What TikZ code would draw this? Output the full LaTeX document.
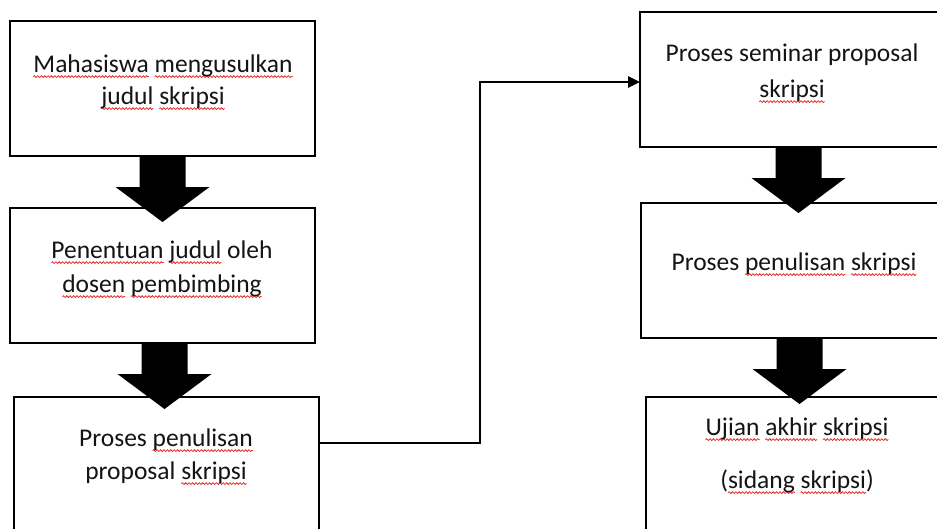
\documentclass[tikz,border=0pt]{standalone}
\usepackage{fontspec}
\setmainfont{Carlito}
\usetikzlibrary{arrows.meta,calc,decorations.pathmorphing}
\definecolor{squig}{RGB}{230,35,35}
\newsavebox\serrbox
\newcommand\spellerr[1]{\sbox\serrbox{#1}\rlap{\tikz[baseline=0pt,x=1pt,y=1pt]{\useasboundingbox (0,0); \draw[squig, line width=0.75pt, decorate, decoration={snake, amplitude=0.9pt, segment length=3.4pt}] (0,-4.6) -- (\the\wd\serrbox,-4.6);}}\usebox\serrbox}
\tikzset{
  box/.style={draw=black, line width=1.8pt, fill=white, rectangle, anchor=north west, outer sep=0pt, inner sep=0pt},
  lbl/.style={anchor=base, inner sep=0pt, font=\fontsize{25.5}{32}\selectfont, text=black!92},
  conn/.style={line width=2.8pt, -{Triangle[length=12pt,width=11pt]}},
  blockarrow/.pic={\fill[black] (-23,0) -- (23,0) -- (23,31) -- (47,31) -- (0,66) -- (-47,31) -- (-23,31) -- cycle;}
}
\begin{document}
\begin{tikzpicture}[x=1pt,y=-1pt]
\useasboundingbox (0,0) rectangle (937,528);
% boxes
\node[box, minimum width=305pt, minimum height=135pt] (b1) at (10,21) {};
\node[box, minimum width=305pt, minimum height=135pt] (b2) at (10,208) {};
\node[box, minimum width=305pt, minimum height=150pt] (b3) at (14,397) {};
\node[box, minimum width=312pt, minimum height=135pt] (b4) at (640,12) {};
\node[box, minimum width=312pt, minimum height=135pt] (b5) at (641,203) {};
\node[box, minimum width=310pt, minimum height=150pt] (b6) at (646,397) {};
% texts
\node[lbl] (t1a) at (163,72) {\spellerr{Mahasiswa} \spellerr{mengusulkan}};
\node[lbl] (t1b) at (163,104) {\spellerr{judul} \spellerr{skripsi}};
\node[lbl] (t2a) at (162,258) {\spellerr{Penentuan} \spellerr{judul} oleh};
\node[lbl] (t2b) at (162,292) {\spellerr{dosen} \spellerr{pembimbing}};
\node[lbl] (t3a) at (166,446) {Proses \spellerr{penulisan}};
\node[lbl] (t3b) at (166,479) {proposal \spellerr{skripsi}};
\node[lbl] (t4a) at (792,61) {Proses seminar proposal};
\node[lbl] (t4b) at (792,97) {\spellerr{skripsi}};
\node[lbl] (t5a) at (794,270) {Proses \spellerr{penulisan} \spellerr{skripsi}};
\node[lbl] (t6a) at (797,435) {\spellerr{Ujian} \spellerr{akhir} \spellerr{skripsi}};
\node[lbl] (t6b) at (797,488) {(\spellerr{sidang} \spellerr{skripsi})};
% block arrows
\pic at (b1.south) {blockarrow};
\pic at ($(b2.south)+(2,0)$) {blockarrow};
\pic at ($(b4.south)+(2.5,0)$) {blockarrow};
\pic at ($(b5.south)+(2.5,0)$) {blockarrow};
% connector
\coordinate (c3) at ($(b3.north east)+(0,46)$);
\coordinate (c4) at ($(b4.north west)+(0,70)$);
\coordinate (bend) at (480,0);
\draw[conn] (c3) -- (c3 -| bend) -- (c4 -| bend) -- (c4);
\end{tikzpicture}
\end{document}
